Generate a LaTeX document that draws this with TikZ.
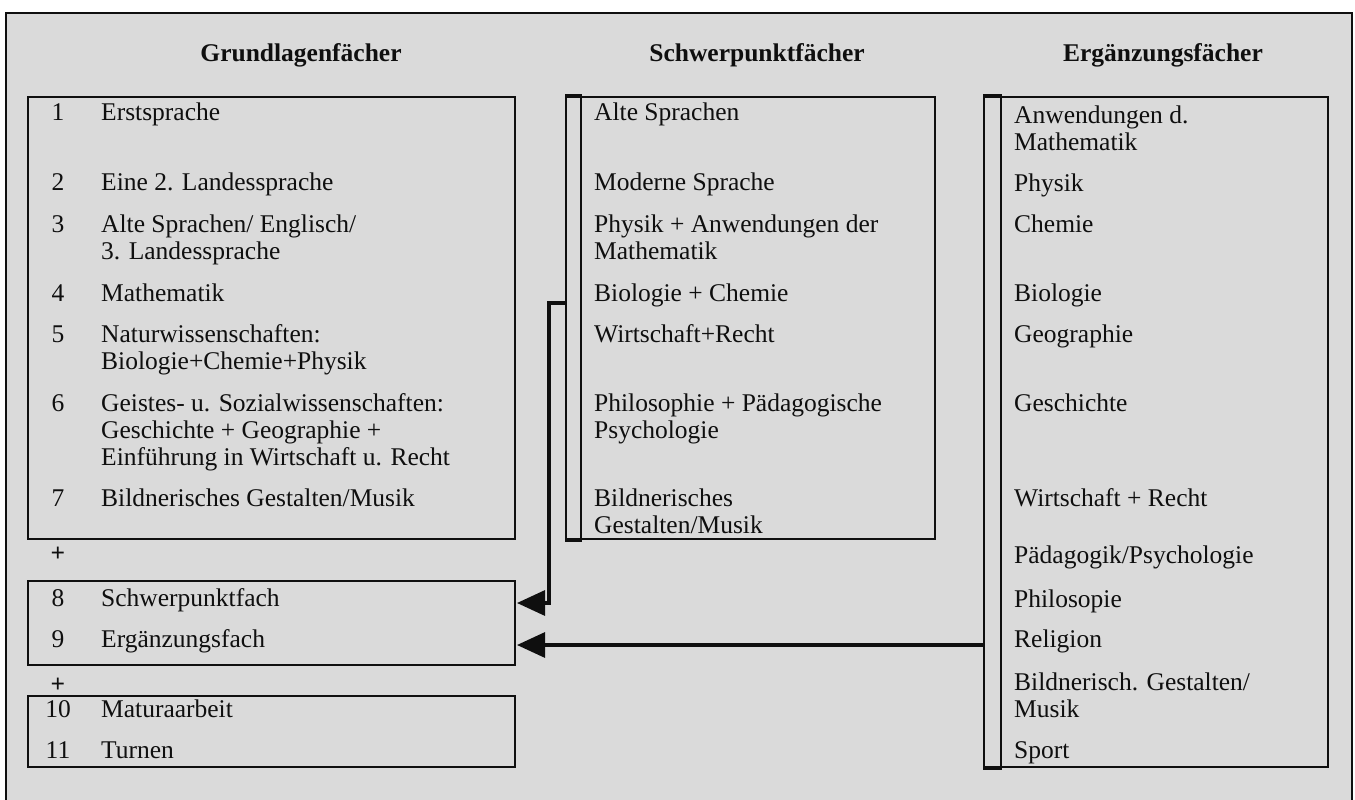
\documentclass[tikz,border=0pt]{standalone}
\usepackage{fontspec}
\setmainfont{Liberation Serif}
\usetikzlibrary{arrows.meta}
\definecolor{bggray}{RGB}{218,218,218}
\definecolor{ink}{RGB}{15,15,15}
\tikzset{
  box/.style={draw=ink, line width=1.7pt, inner sep=0pt, anchor=north west},
  brk/.style={draw=ink, line width=2pt, inner sep=0pt, anchor=north west},
  bar/.style={draw=ink, line width=4pt},
  conn/.style={draw=ink, line width=3.2pt},
  arr/.style={-{Triangle[length=28pt,width=25pt]}},
  txt/.style={anchor=base west, inner sep=0pt, text=ink, font=\fontsize{25.5}{27}\selectfont},
  num/.style={txt, anchor=base},
  plus/.style={num, font=\fontsize{25.5}{27}\selectfont\bfseries},
  hdr/.style={anchor=base, inner sep=0pt, text=ink, font=\fontsize{25.5}{27}\selectfont\bfseries},
}
\begin{document}
\begin{tikzpicture}[x=1pt,y=-1pt]
\useasboundingbox (0,0) rectangle (1355,800);
\fill[white] (0,0) rectangle (1355,800);
\fill[bggray] (6,13) rectangle (1352,800);
\draw[ink, line width=1.6pt] (6,800) -- (6,13) -- (1352,13) -- (1352,800);

% headers
\node[hdr] (h1) at (301,62) {Grundlagenfächer};
\node[hdr] (h2) at (757,62) {Schwerpunktfächer};
\node[hdr] (h3) at (1163,62) {Ergänzungsfächer};

% left boxes
\node[box, minimum width=487pt, minimum height=442pt] (gl) at (27,96) {};
\node[box, minimum width=487pt, minimum height=84pt] (sp) at (27,580) {};
\node[box, minimum width=487pt, minimum height=71pt] (ma) at (27,695) {};

% middle box and bracket
\node[box, minimum width=354pt, minimum height=442pt] (mb) at (580,96) {};
\node[brk, minimum width=15pt, minimum height=442pt] (mbr) at (565,96) {};
\draw[bar] (mbr.north west) -- (mbr.north east);
\draw[bar] (mbr.south west) -- (mbr.south east);

% right box and bracket
\node[box, minimum width=327pt, minimum height=670pt] (rb) at (1000,96) {};
\node[brk, minimum width=17pt, minimum height=670pt] (rbr) at (983,96) {};
\draw[bar] (rbr.north west) -- (rbr.north east);
\draw[bar] (rbr.south west) -- (rbr.south east);

% connectors
\coordinate (m1) at (565,303);
\coordinate (m2) at (549,303);
\coordinate (m3) at (549,603);
\coordinate (t1) at (517,603);
\draw[conn, arr] (m1) -- (m2) -- (m3) -- (t1);
\coordinate (r1) at (983,645);
\coordinate (t2) at (517,645);
\draw[conn, arr] (r1) -- (t2);

% left column text
\node[num] (n1) at (58,120) {1};
\node[txt] (l1) at (101,120) {Erstsprache};
\node[num] (n2) at (58,190) {2};
\node[txt] (l2) at (101,190) {Eine 2. Landessprache};
\node[num] (n3) at (58,232) {3};
\node[txt] (l3a) at (101,232) {Alte Sprachen/ Englisch/};
\node[txt] (l3b) at (101,259) {3. Landessprache};
\node[num] (n4) at (58,301) {4};
\node[txt] (l4) at (101,301) {Mathematik};
\node[num] (n5) at (58,342) {5};
\node[txt] (l5a) at (101,342) {Naturwissenschaften:};
\node[txt] (l5b) at (101,369) {Biologie+Chemie+Physik};
\node[num] (n6) at (58,411) {6};
\node[txt] (l6a) at (101,411) {Geistes- u. Sozialwissenschaften:};
\node[txt] (l6b) at (101,438) {Geschichte + Geographie +};
\node[txt] (l6c) at (101,465) {Einführung in Wirtschaft u. Recht};
\node[num] (n7) at (58,506) {7};
\node[txt] (l7) at (101,506) {Bildnerisches Gestalten/Musik};
\node[plus] (p1) at (58,561) {+};
\node[num] (n8) at (58,606) {8};
\node[txt] (l8) at (101,606) {Schwerpunktfach};
\node[num] (n9) at (58,647) {9};
\node[txt] (l9) at (101,647) {Ergänzungsfach};
\node[plus] (p2) at (58,692) {+};
\node[num] (n10) at (58,717) {10};
\node[txt] (l10) at (101,717) {Maturaarbeit};
\node[num] (n11) at (58,758) {11};
\node[txt] (l11) at (101,758) {Turnen};

% middle column text
\node[txt] (s1) at (594,120) {Alte Sprachen};
\node[txt] (s2) at (594,190) {Moderne Sprache};
\node[txt] (s3a) at (594,232) {Physik + Anwendungen der};
\node[txt] (s3b) at (594,259) {Mathematik};
\node[txt] (s4) at (594,301) {Biologie + Chemie};
\node[txt] (s5) at (594,342) {Wirtschaft+Recht};
\node[txt] (s6a) at (594,411) {Philosophie + Pädagogische};
\node[txt] (s6b) at (594,438) {Psychologie};
\node[txt] (s7a) at (594,506) {Bildnerisches};
\node[txt] (s7b) at (594,533) {Gestalten/Musik};

% right column text
\node[txt] (e1a) at (1014,123) {Anwendungen d.};
\node[txt] (e1b) at (1014,150) {Mathematik};
\node[txt] (e2) at (1014,191) {Physik};
\node[txt] (e3) at (1014,232) {Chemie};
\node[txt] (e4) at (1014,301) {Biologie};
\node[txt] (e5) at (1014,342) {Geographie};
\node[txt] (e6) at (1014,411) {Geschichte};
\node[txt] (e7) at (1014,506) {Wirtschaft + Recht};
\node[txt] (e8) at (1014,563) {Pädagogik/Psychologie};
\node[txt] (e9) at (1014,607) {Philosopie};
\node[txt] (e10) at (1014,647) {Religion};
\node[txt] (e11a) at (1014,690) {Bildnerisch. Gestalten/};
\node[txt] (e11b) at (1014,717) {Musik};
\node[txt] (e12) at (1014,758) {Sport};
\end{tikzpicture}
\end{document}
